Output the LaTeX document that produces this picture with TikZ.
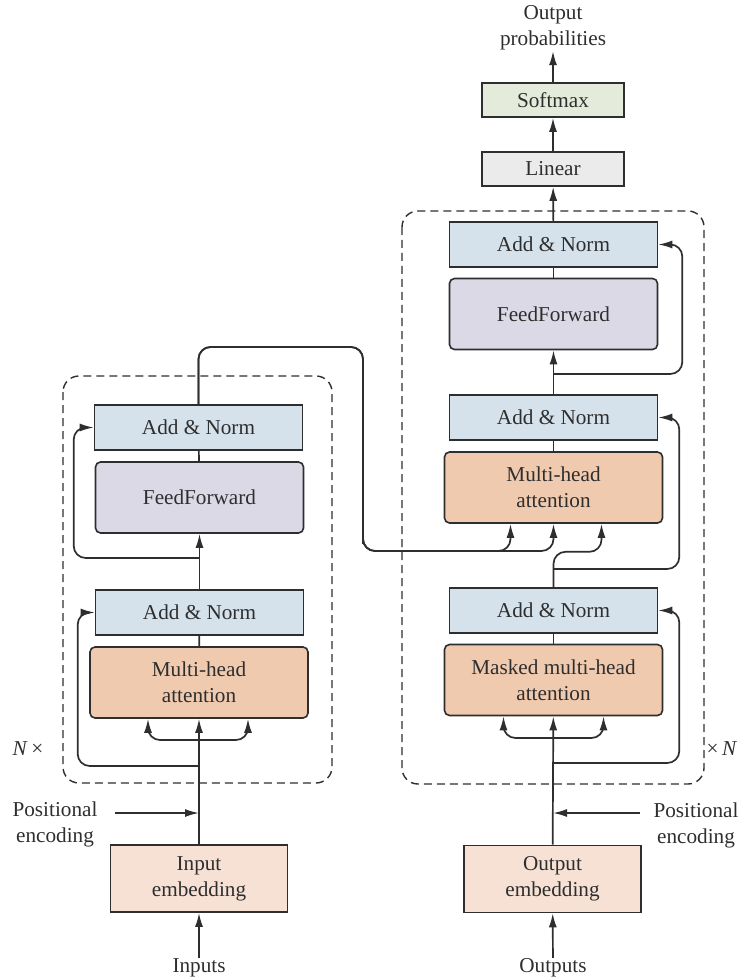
\documentclass[tikz,border=0pt]{standalone}
\usepackage{fontspec}
\setmainfont{Liberation Serif}
\usetikzlibrary{positioning,arrows.meta,calc}
\definecolor{normblue}{HTML}{D5E2EB}
\definecolor{fflav}{HTML}{DCD9E6}
\definecolor{attpeach}{HTML}{F0CAAF}
\definecolor{embpeach}{HTML}{F7E1D5}
\definecolor{smgreen}{HTML}{E5EBDA}
\definecolor{lingray}{HTML}{EBEBEB}
\definecolor{inkgray}{HTML}{2E2E2E}
\tikzset{
trans/.style={x=0.5pt,y=-0.5pt,>={Latex[length=7pt,width=4pt]},line width=0.85pt,
draw=inkgray,text=inkgray,font=\fontsize{10.6}{13}\selectfont},
block/.style={draw=inkgray,line width=0.8pt,align=center,inner sep=0pt},
norm/.style={block,fill=normblue,minimum width=104pt,minimum height=22.5pt},
feed/.style={block,fill=fflav,rounded corners=2.5pt,minimum width=104pt,minimum height=35.5pt},
att/.style={block,fill=attpeach,rounded corners=2.5pt,minimum width=109pt,minimum height=35.5pt},
emb/.style={block,fill=embpeach,minimum width=88.5pt,minimum height=33.5pt},
head/.style={block,minimum width=71pt,minimum height=17pt},
label/.style={align=center,inner sep=0pt},
stack/.style={dashed,dash pattern=on 4pt off 2.5pt,rounded corners=8pt,line width=0.7pt},
res/.style={->,rounded corners=6pt}
}
\begin{document}
\begin{tikzpicture}[trans]
\useasboundingbox (0,0) rectangle (749,978);

% encoder
\node[emb] (inemb) at (199,878.5) {Input\\embedding};
\node[att] (encatt) at (199,682.5) {Multi-head\\attention};
\node[norm] (encnorm1) at (199.5,612.5) {Add \& Norm};
\node[feed] (encff) at (199.5,497.5) {FeedForward};
\node[norm] (encnorm2) at (198.5,427.5) {Add \& Norm};
\node[label] (inputs) at (199,968) {Inputs};
\node[label] (encpos) at (55,824) {Positional\\encoding};
\node[label] (nx) at (28,749) {\textit{N}\,×};

% decoder
\node[emb] (outemb) at (552.5,879) {Output\\embedding};
\node[att] (decmask) at (553.5,680) {Masked multi-head\\attention};
\node[norm] (decnorm1) at (553.5,610.5) {Add \& Norm};
\node[att] (decatt) at (553.5,487.5) {Multi-head\\attention};
\node[norm] (decnorm2) at (553.5,417.5) {Add \& Norm};
\node[feed] (decff) at (553.5,314) {FeedForward};
\node[norm] (decnorm3) at (553.5,244.5) {Add \& Norm};
\node[head,fill=lingray] (linear) at (553,169) {Linear};
\node[head,fill=smgreen] (softmax) at (553,100) {Softmax};
\node[label] (outprob) at (553,28) {Output\\probabilities};
\node[label] (outputs) at (553,968) {Outputs};
\node[label] (decpos) at (696,825) {Positional\\encoding};
\node[label] (xn) at (722,749) {×\,\textit{N}};

% stacks
\draw[stack] (63,376) rectangle (332,783);
\draw[stack] (402,211) rectangle (704,784);

% branch points
\coordinate (encpe) at (199,813);
\coordinate (encpetail) at (115,813);
\coordinate (encsplit) at (199,740);
\coordinate (encres1) at (199,766);
\coordinate (encres2) at (199,558);
\coordinate (crossa) at (363,347);
\coordinate (crossb) at (363,551);
\coordinate (decpe) at (553,813);
\coordinate (decpetail) at (640,813);
\coordinate (decsplit) at (553,738);
\coordinate (decres1) at (553,763);
\coordinate (decres2) at (553,569);
\coordinate (decres3) at (553,374);

% encoder connectors
\draw[->] (inputs) -- (inemb);
\draw[->] (inemb) -- (encatt);
\draw[->] (encpetail) -- (encpe);
\draw[res] (encsplit) -| ($(encatt.south)+(-51,0)$);
\draw[res] (encsplit) -| ($(encatt.south)+(49,0)$);
\draw[res] (encres1) -| ($(encnorm1.west)+(-17,0)$) -- (encnorm1.west);
\draw (encatt) -- (encnorm1);
\draw[->] (encnorm1) -- (encff);
\draw[res] (encres2) -| ($(encnorm2.west)+(-20,0)$) -- (encnorm2.west);
\draw (encff) -- (encnorm2);

% encoder to decoder
\draw[res] (encnorm2.north) |- (crossa) |- (crossb) -| ($(decatt.south)+(-43,0)$);
\draw[res] (encnorm2.north) |- (crossa) |- (crossb) -| (decatt.south);

% decoder connectors
\draw[->] (outputs) -- (outemb);
\draw[->] (outemb) -- (decmask);
\draw[->] (decpetail) -- (decpe);
\draw[res] (decsplit) -| ($(decmask.south)+(-50,0)$);
\draw[res] (decsplit) -| ($(decmask.south)+(50,0)$);
\draw[res] (decres1) -| ($(decnorm1.east)+(21,0)$) -- (decnorm1.east);
\draw (decmask) -- (decnorm1);
\draw[res] (decnorm1.north) |- ($(decatt.south)+(48,28)$) -- ($(decatt.south)+(48,0)$);
\draw[res] (decres2) -| ($(decnorm2.east)+(21,0)$) -- (decnorm2.east);
\draw (decatt) -- (decnorm2);
\draw[->] (decnorm2) -- (decff);
\draw[res] (decres3) -| ($(decnorm3.east)+(24,0)$) -- (decnorm3.east);
\draw (decff) -- (decnorm3);
\draw[->] (decnorm3) -- (linear);
\draw[->] (linear) -- (softmax);
\draw[->] (softmax) -- (outprob);

\end{tikzpicture}
\end{document}
